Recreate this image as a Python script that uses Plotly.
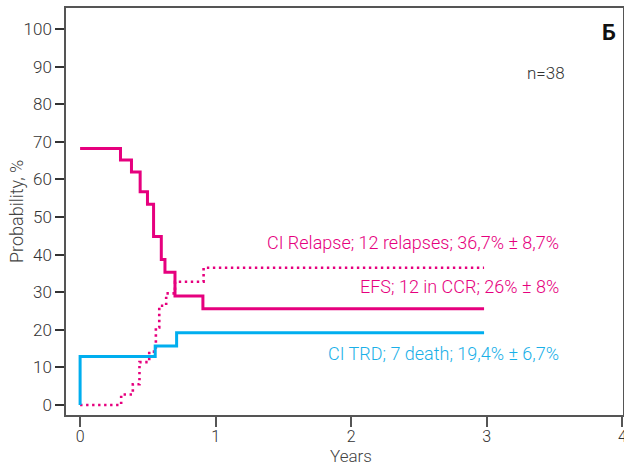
import plotly.graph_objects as go

# EFS (solid magenta)
efs_x = [0, 0.298, 0.379, 0.443, 0.497, 0.542, 0.599, 0.626, 0.700, 0.906, 2.98]
efs_y = [68.2, 65.2, 62.0, 56.7, 53.4, 44.8, 38.7, 35.3, 29.0, 25.6, 25.6]

# CI Relapse (dotted magenta)
rel_x = [0, 0.303, 0.389, 0.438, 0.510, 0.559, 0.584, 0.635, 0.700, 0.911, 2.98]
rel_y = [0, 2.8, 5.5, 11.4, 14.2, 20.6, 26.4, 29.7, 32.8, 36.5, 36.5]

# CI TRD (cyan)
trd_x = [0, 0, 0.554, 0.712, 2.98]
trd_y = [0, 12.9, 15.7, 19.2, 19.2]

x_ticks = [0, 1, 2, 3, 4]
y_ticks = [0, 10, 20, 30, 40, 50, 60, 70, 80, 90, 100]

labels = [
    ("CI Relapse; 12 relapses; 36,7% ± 8,7%", 43.1, "#e6007e"),
    ("EFS; 12 in CCR; 26% ± 8%", 31.5, "#e6007e"),
    ("CI TRD; 7 death; 19,4% ± 6,7%", 13.8, "#1ab0e8"),
]

MAG = "#e6007e"
CYAN = "#00aeef"
FONT = "Roboto"

fig = go.Figure()
fig.add_trace(go.Scatter(x=rel_x, y=rel_y, mode="lines", line_shape="hv",
                         line=dict(color=MAG, width=2.6, dash="2.4px,3.6px"),
                         hoverinfo="skip"))
fig.add_trace(go.Scatter(x=trd_x, y=trd_y, mode="lines", line_shape="hv",
                         line=dict(color=CYAN, width=3), hoverinfo="skip"))
fig.add_trace(go.Scatter(x=efs_x, y=efs_y, mode="lines", line_shape="hv",
                         line=dict(color=MAG, width=3), hoverinfo="skip"))

for text, yv, col in labels:
    fig.add_annotation(x=3.547, y=yv, xref="x", yref="y", text=text,
                       showarrow=False, xanchor="right", yanchor="middle",
                       font=dict(family=FONT, size=18, color=col, weight=300))

fig.add_annotation(x=3.436, y=88.3, xref="x", yref="y", text="n=38",
                   showarrow=False, xanchor="center", yanchor="middle",
                   font=dict(family=FONT, size=17, color="#333", weight=300))
fig.add_annotation(x=3.9, y=99.0, xref="x", yref="y", text="<b>Б</b>",
                   showarrow=False, xanchor="center", yanchor="middle",
                   font=dict(family=FONT, size=22, color="#111"))

H, W = 468, 624
ML, MR, MT, MB = 66, 1, 8, 53
pw, ph = W - ML - MR, H - MT - MB

# axis titles (placed in paper coordinates from pixel positions)
fig.add_annotation(x=(351 - ML) / pw, y=(H - MB - 467) / ph,
                   xref="paper", yref="paper", text="Years",
                   showarrow=False, xanchor="center", yanchor="bottom",
                   borderpad=0,
                   font=dict(family=FONT, size=17, color="#444", weight=300))
fig.add_annotation(x=(17 - ML) / pw, y=(H - MB - 212) / ph,
                   xref="paper", yref="paper", text="Probability, %",
                   showarrow=False, textangle=-90,
                   xanchor="center", yanchor="middle",
                   font=dict(family=FONT, size=18, color="#444", weight=300))

fig.update_layout(
    width=W, height=H,
    margin=dict(l=ML, r=MR, t=MT, b=MB),
    paper_bgcolor="white", plot_bgcolor="white",
    showlegend=False,
    font=dict(family=FONT, size=17, color="#333", weight=300),
    xaxis=dict(range=[-0.104, 4.005], tickvals=x_ticks, ticks="outside",
               ticklen=10, tickcolor="#555", tickwidth=1.5,
               showline=True, linecolor="#555", linewidth=1.5, mirror=True,
               showgrid=False, zeroline=False, automargin=False,
               ticklabeloverflow="allow", ticklabelstandoff=-4,
               tickfont=dict(size=16)),
    yaxis=dict(range=[-2.66, 105.6], tickvals=y_ticks, ticks="outside",
               ticklen=9, tickcolor="#333", tickwidth=1.5,
               showline=True, linecolor="#555", linewidth=1.5, mirror=True,
               showgrid=False, zeroline=False, automargin=False,
               tickfont=dict(size=17)),
)

fig.write_html("out.html", config={"displayModeBar": False},
               post_script="document.body.style.margin='0';"
                           "document.body.style.overflow='hidden';")
